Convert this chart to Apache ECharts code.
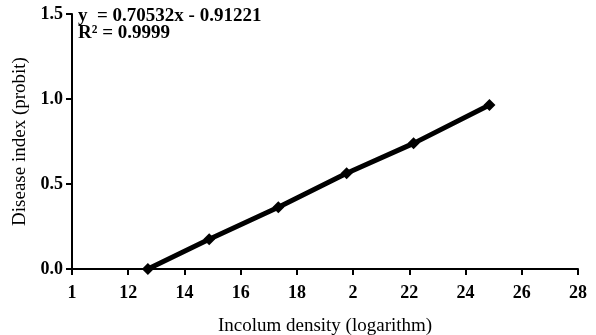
<!DOCTYPE html>
<html><head><meta charset="utf-8">
<script src="https://cdn.jsdelivr.net/npm/echarts@6/dist/echarts.min.js"></script>
<style>html,body{margin:0;padding:0;background:#fff}#c{width:596px;height:335px}</style>
</head><body><div id="c"></div>
<script>
const xValues = [12.7, 14.88, 17.34, 19.77, 22.15, 24.85];
const yValues = [0.0, 0.175, 0.363, 0.563, 0.739, 0.965];
const xTickLabels = {10:'1',12:'12',14:'14',16:'16',18:'18',20:'2',22:'22',24:'24',26:'26',28:'28'};
const equationText = 'y  = 0.70532x - 0.91221';
const r2Text = 'R\u00B2 = 0.9999';
const xTitle = 'Incolum density (logarithm)';
const yTitle = 'Disease index (probit)';

const F = 'Liberation Serif, Times New Roman, serif';
const chart = echarts.init(document.getElementById('c'));
chart.setOption({
  animation: false,
  grid: {left: 72, right: 18, top: 14, bottom: 66, containLabel: false, outerBoundsMode: 'none'},
  graphic: [
    {type:'text', left: 78, top: 7, style:{text: equationText, font: 'bold 19px ' + F, fill:'#000'}},
    {type:'text', left: 78, top: 24, style:{text: r2Text, font: 'bold 19px ' + F, fill:'#000'}}
  ],
  xAxis: {
    type: 'value', min: 10, max: 28, interval: 2,
    name: xTitle, nameLocation: 'middle', nameGap: 48,
    nameTextStyle: {fontFamily: F, fontSize: 19, color: '#000'},
    axisLine: {lineStyle: {color: '#000', width: 2}},
    axisTick: {lineStyle: {color: '#000', width: 2}, length: 6},
    axisLabel: {fontFamily: F, fontSize: 18, fontWeight: 'bold', color: '#000', margin: 15,
      formatter: v => xTickLabels[Math.round(v)] || ''},
    splitLine: {show: false}
  },
  yAxis: {
    type: 'value', min: 0, max: 1.5, interval: 0.5,
    name: yTitle, nameLocation: 'middle', nameGap: 40, nameRotate: 90,
    nameTextStyle: {fontFamily: F, fontSize: 19, color: '#000'},
    axisLine: {show: true, lineStyle: {color: '#000', width: 2}},
    axisTick: {show: true, lineStyle: {color: '#000', width: 2}, length: 6},
    axisLabel: {fontFamily: F, fontSize: 18, fontWeight: 'bold', color: '#000', margin: 9,
      formatter: v => v.toFixed(1)},
    splitLine: {show: false}
  },
  series: [{
    type: 'line',
    data: xValues.map((x, i) => [x, yValues[i]]),
    symbol: 'diamond', symbolSize: 12,
    lineStyle: {color: '#000', width: 5},
    itemStyle: {color: '#000'}
  }]
});
</script></body></html>
